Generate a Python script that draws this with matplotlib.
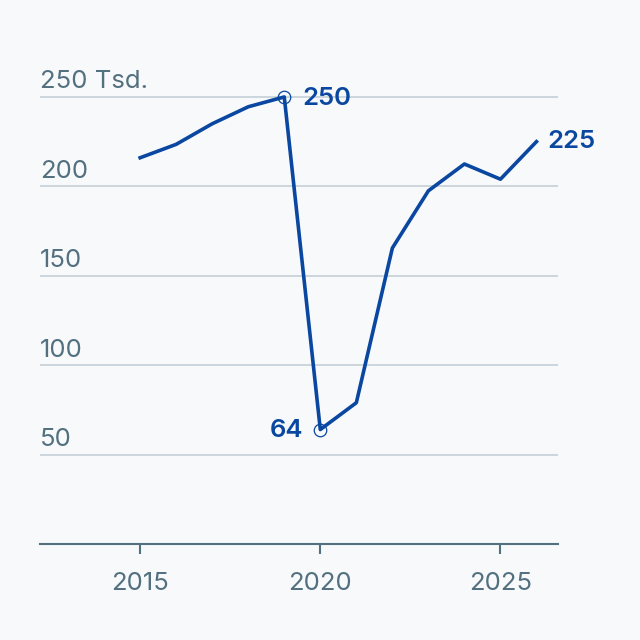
import matplotlib
matplotlib.use("Agg")
import matplotlib.pyplot as plt

plt.rcParams['font.family'] = ['Inter', 'DejaVu Sans']

years = [2015, 2016, 2017, 2018, 2019, 2020, 2021, 2022, 2023, 2024, 2025, 2026]
values = [216, 223.5, 235, 244.5, 250, 64, 79, 165.5, 197.5, 212.5, 204, 225]
y_ticks = [50, 100, 150, 200, 250]
y_labels = ["50", "100", "150", "200", "250 Tsd."]
x_ticks = [2015, 2020, 2025]

bg = "#f8f9fa"
line_col = "#0a47a1"
text_col = "#52707f"
grid_col = "#c5cfd7"
fs = 18.5

fig = plt.figure(figsize=(6.4, 6.4), dpi=100, facecolor=bg)
ax = fig.add_axes([0.0625, 0.15, 0.8095, 0.7544])
ax.set_facecolor(bg)

ax.set_xlim(2012.22, 2026.6)
ax.set_ylim(0, 270)

for v, lab in zip(y_ticks, y_labels):
    ax.axhline(v, color=grid_col, lw=1.2, zorder=1)
    ax.annotate(lab, xy=(0, v), xycoords=('axes fraction', 'data'),
                xytext=(0, 2.5), textcoords='offset points',
                ha='left', va='bottom', fontsize=fs, color=text_col)

ax.plot(years, values, color=line_col, lw=2.6, zorder=3, solid_joinstyle='round')

# markers on max and min
i_max = values.index(max(values))
i_min = values.index(min(values))
ax.plot([years[i_max], years[i_min]], [values[i_max], values[i_min]], 'o',
        ms=9, mfc='none', mec=line_col, mew=0.9, zorder=4)

ax.annotate(f"{values[i_max]:.0f}", xy=(years[i_max], values[i_max]),
            xytext=(13, -1), textcoords='offset points', ha='left', va='center',
            fontsize=fs, fontweight='semibold', color=line_col)
ax.annotate(f"{values[i_min]:.0f}", xy=(years[i_min], values[i_min]),
            xytext=(-12, -1), textcoords='offset points', ha='right', va='center',
            fontsize=fs, fontweight='semibold', color=line_col)
ax.annotate(f"{values[-1]:.0f}", xy=(years[-1], values[-1]),
            xytext=(8, 0), textcoords='offset points', ha='left', va='center',
            fontsize=fs, fontweight='semibold', color=line_col)

for s in ['top', 'right', 'left']:
    ax.spines[s].set_visible(False)
ax.spines['bottom'].set_color(text_col)
ax.spines['bottom'].set_linewidth(1.5)

ax.set_yticks([])
ax.set_xticks(x_ticks)
ax.set_xticklabels([str(x) for x in x_ticks])
ax.tick_params(axis='x', length=7, width=1.5, color=text_col, labelcolor=text_col,
               labelsize=fs, pad=13)

fig.savefig("out.png", dpi=100, facecolor=bg)
